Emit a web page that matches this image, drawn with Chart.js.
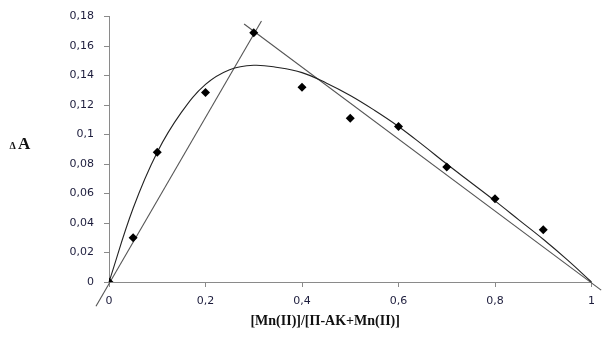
<!DOCTYPE html>
<html lang="en">
<head>
  <meta charset="UTF-8">
  <title>Job plot Mn(II)</title>
  <script src="https://cdn.jsdelivr.net/npm/chart.js"></script>
  <style>
    html, body { margin:0; padding:0; background:#fff; }
    #wrap { width:603px; height:338px; position:relative; }
  </style>
</head>
<body>
<div id="wrap"><canvas id="jobChart" width="603" height="338"></canvas></div>

<script>
  // measured points (diamonds)
  const ptX = [0, 0.05, 0.1, 0.2, 0.3, 0.4, 0.5, 0.6, 0.7, 0.8, 0.9];
  const ptY = [0, 0.030, 0.088, 0.1285, 0.169, 0.132, 0.111, 0.1055, 0.078, 0.0565, 0.0355];

  // smooth trend curve, every 0.05
  const curveX = [0, 0.05, 0.1, 0.15, 0.2, 0.25, 0.3, 0.35, 0.4, 0.45, 0.5,
                  0.55, 0.6, 0.65, 0.7, 0.75, 0.8, 0.85, 0.9, 0.95, 1.0];
  const curveY = [0, 0.050, 0.088, 0.115, 0.134, 0.144, 0.147, 0.1455, 0.142, 0.135, 0.1265,
                  0.1165, 0.1055, 0.093, 0.080, 0.0675, 0.055, 0.042, 0.029, 0.015, 0];

  // the two tangent lines
  const riseX = [-0.027, 0.316];
  const riseY = [-0.0165, 0.177];
  const fallX = [0.28, 1.02];
  const fallY = [0.175, -0.0055];

  const xTicks = [0, 0.2, 0.4, 0.6, 0.8, 1];
  const yTitle = ["\u0394", "A"];
  const xTitle = "[Mn(II)]/[\u041F-AK+Mn(II)]";

  const toPts = (xs, ys) => xs.map((x, i) => ({x: x, y: ys[i]}));
  const fmt = v => String(Number(v.toFixed(3))).replace(".", ",");

  const titles = {
    id: "titles",
    afterDraw(chart) {
      const c = chart.ctx, xs = chart.scales.x;
      c.save();
      c.fillStyle = "#111";
      c.textBaseline = "alphabetic";
      c.textAlign = "left";
      c.font = "bold 10px 'Liberation Serif'";
      c.fillText(yTitle[0], 9.5, 149);
      c.font = "bold 17px 'Liberation Serif'";
      c.fillText(yTitle[1], 18, 149);
      c.textAlign = "center";
      c.font = "bold 14px 'Liberation Serif'";
      c.fillText(xTitle, xs.getPixelForValue(0.448), 325);
      c.restore();
    }
  };

  new Chart(document.getElementById("jobChart"), {
    type: "scatter",
    data: {
      datasets: [
        {data: toPts(ptX, ptY), pointStyle: "rectRot", pointRadius: 4.5,
         backgroundColor: "#000", borderColor: "#000", borderWidth: 0, showLine: false},
        {data: toPts(curveX, curveY), showLine: true, pointRadius: 0,
         borderColor: "#222", borderWidth: 1.1, tension: 0.4, clip: false},
        {data: toPts(riseX, riseY), showLine: true, pointRadius: 0,
         borderColor: "#555", borderWidth: 1.1, clip: false},
        {data: toPts(fallX, fallY), showLine: true, pointRadius: 0,
         borderColor: "#555", borderWidth: 1.1, clip: false}
      ]
    },
    options: {
      responsive: false,
      animation: false,
      layout: {padding: {top: 16, right: 9, bottom: 0, left: 0}},
      plugins: {legend: {display: false}, tooltip: {enabled: false}},
      scales: {
        x: {
          type: "linear", min: 0, max: 1,
          afterFit: s => { s.height = 56; },
          afterBuildTicks: s => { s.ticks = xTicks.map(v => ({value: v})); },
          grid: {drawOnChartArea: false, drawTicks: true, tickLength: 5, color: "#8a8a8a"},
          border: {color: "#8a8a8a", width: 1},
          ticks: {callback: fmt, padding: 8, maxRotation: 0,
                  color: "#1c1c3c", font: {family: "'DejaVu Sans'", size: 11}}
        },
        y: {
          type: "linear", min: 0, max: 0.18,
          afterFit: s => { s.width = 109; },
          grid: {drawOnChartArea: false, drawTicks: true, tickLength: 5, color: "#8a8a8a"},
          border: {color: "#8a8a8a", width: 1},
          ticks: {stepSize: 0.02, callback: fmt, padding: 10,
                  color: "#1c1c3c", font: {family: "'DejaVu Sans'", size: 11}}
        }
      }
    },
    plugins: [titles]
  });
</script>
</body>
</html>
